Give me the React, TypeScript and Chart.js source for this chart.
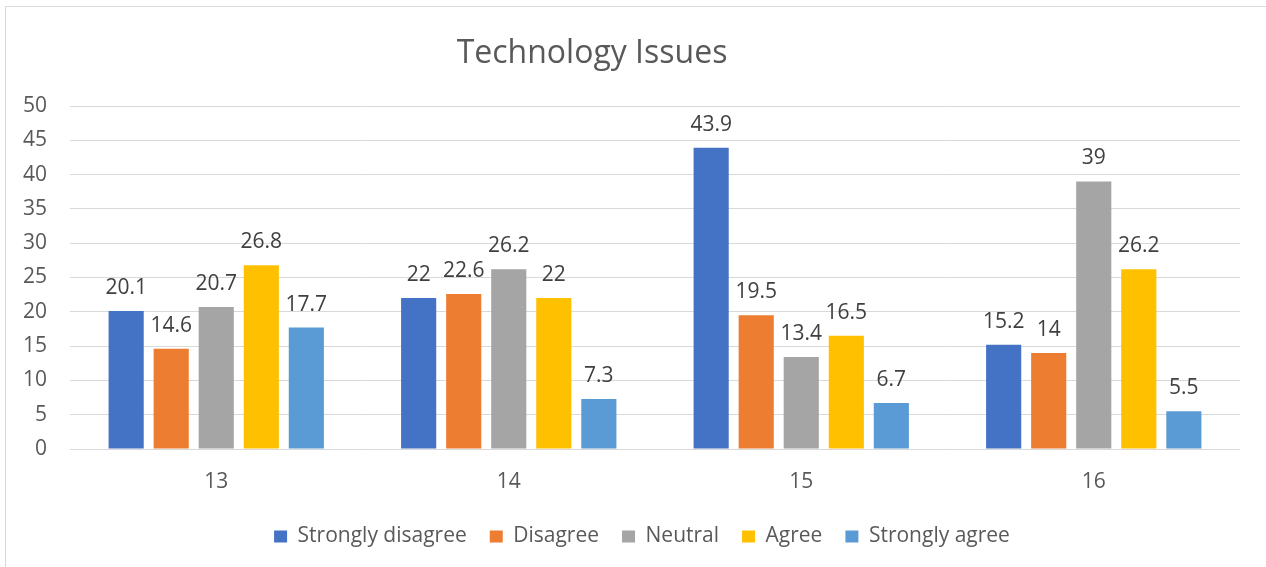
import { useEffect, useRef } from "react";
import { Chart, registerables } from "chart.js";

Chart.register(...registerables);

// Survey questions along the x axis
const questions = ["13", "14", "15", "16"];

// Percentage of responses per answer, one array per answer option
const stronglyDisagree = [20.1, 22, 43.9, 15.2];
const disagree = [14.6, 22.6, 19.5, 14];
const neutral = [20.7, 26.2, 13.4, 39];
const agree = [26.8, 22, 16.5, 26.2];
const stronglyAgree = [17.7, 7.3, 6.7, 5.5];

const seriesNames = ["Strongly disagree", "Disagree", "Neutral", "Agree", "Strongly agree"];
const seriesValues = [stronglyDisagree, disagree, neutral, agree, stronglyAgree];
const seriesColors = ["#4472C4", "#ED7D31", "#A5A5A5", "#FFC000", "#5B9BD5"];

const chartTitle = "Technology Issues";
const yMin = 0;
const yMax = 50;
const yStep = 5;

const FONT = "'Open Sans', 'DejaVu Sans', sans-serif";
const AXIS_TEXT = "#595959";
const LABEL_TEXT = "#404040";
const GRID = "#d9d9d9";

// Light frame around the whole chart
const framePlugin = {
  id: "frame",
  beforeDraw(chart: any) {
    const { ctx } = chart;
    ctx.save();
    ctx.strokeStyle = GRID;
    ctx.lineWidth = 1;
    ctx.strokeRect(5.5, 6.5, chart.width + 20, chart.height + 20);
    ctx.restore();
  },
};

// Let the value-axis labels extend left of the narrow axis box without being clipped
const axisLabelRoom = {
  id: "axisLabelRoom",
  afterLayout(chart: any) {
    const y = chart.scales.y;
    if (y) y.left = 0;
  },
};

// Chart heading
const headingPlugin = {
  id: "heading",
  afterDraw(chart: any) {
    const { ctx } = chart;
    ctx.save();
    ctx.font = `32px ${FONT}`;
    ctx.fillStyle = AXIS_TEXT;
    ctx.textAlign = "center";
    ctx.textBaseline = "alphabetic";
    ctx.fillText(chartTitle, 592, 63);
    ctx.restore();
  },
};

// Value printed above each bar
const valueLabelPlugin = {
  id: "valueLabels",
  afterDatasetsDraw(chart: any) {
    const { ctx } = chart;
    ctx.save();
    ctx.font = `21px ${FONT}`;
    ctx.fillStyle = LABEL_TEXT;
    ctx.textAlign = "center";
    ctx.textBaseline = "alphabetic";
    chart.data.datasets.forEach((ds: any, i: number) => {
      const meta = chart.getDatasetMeta(i);
      meta.data.forEach((bar: any, j: number) => {
        ctx.fillText(String(ds.data[j]), bar.x, bar.y - 17);
      });
    });
    ctx.restore();
  },
};

export default function App() {
  const canvasRef = useRef<HTMLCanvasElement | null>(null);

  useEffect(() => {
    if (!canvasRef.current) return;
    const chart = new Chart(canvasRef.current, {
      type: "bar",
      data: {
        labels: questions,
        datasets: seriesNames.map((name, i) => ({
          label: name,
          data: seriesValues[i],
          backgroundColor: seriesColors[i],
          borderWidth: 0,
          categoryPercentage: 0.77,
          barPercentage: 0.78,
        })),
      },
      options: {
        responsive: false,
        animation: false,
        layout: { padding: { left: 44, right: 26, top: 106, bottom: 10 } },
        plugins: {
          title: { display: false },
          tooltip: { enabled: false },
          legend: {
            position: "bottom",
            labels: {
              color: AXIS_TEXT,
              font: { family: FONT, size: 21 },
              boxWidth: 13,
              boxHeight: 12,
              padding: 23,
            },
          },
        },
        scales: {
          x: {
            grid: { display: false },
            border: { display: false },
            ticks: { color: AXIS_TEXT, font: { family: FONT, size: 21 }, padding: 12 },
            afterFit(scale: any) {
              scale.height = 54;
            },
          },
          y: {
            min: yMin,
            max: yMax,
            ticks: { stepSize: yStep, color: AXIS_TEXT, font: { family: FONT, size: 21 }, padding: 23 },
            grid: { color: GRID, lineWidth: 1, drawTicks: false },
            border: { display: false },
            afterFit(scale: any) {
              scale.width = 26;
            },
          },
        },
      },
      plugins: [framePlugin, axisLabelRoom, headingPlugin, valueLabelPlugin],
    });
    return () => chart.destroy();
  }, []);

  return (
    <div style={{ position: "absolute", left: 0, top: 0, width: 1266, height: 567, background: "#fff" }}>
      <canvas ref={canvasRef} width={1266} height={567} style={{ display: "block" }} />
    </div>
  );
}
